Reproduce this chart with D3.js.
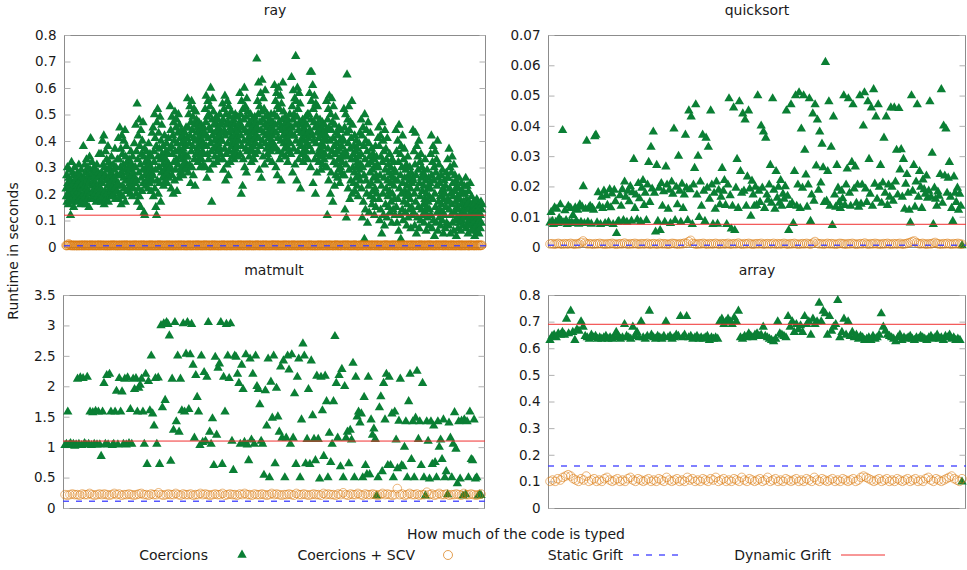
<!DOCTYPE html>
<html>
<head>
<meta charset="utf-8">
<script src="https://cdn.jsdelivr.net/npm/d3@7"></script>
<style>
  body { margin: 0; background: #fff; }
  svg { display: block; font-family: "DejaVu Sans", sans-serif; }
</style>
</head>
<body>
<script>
// benchmark names and the two reference lines per benchmark
const benchmarks = ["ray", "quicksort", "matmult", "array"];
const staticGrift = [0.005, 0.0006, 0.11, 0.158];
const dynamicGrift = [0.12, 0.0075, 1.1, 0.69];

// y tick values per benchmark
const rayTicks = [0, 0.1, 0.2, 0.3, 0.4, 0.5, 0.6, 0.7, 0.8];
const quicksortTicks = [0, 0.01, 0.02, 0.03, 0.04, 0.05, 0.06, 0.07];
const matmultTicks = [0, 0.5, 1, 1.5, 2, 2.5, 3, 3.5];
const arrayTicks = [0, 0.1, 0.2, 0.3, 0.4, 0.5, 0.6, 0.7, 0.8];

const legendLabels = ["Coercions", "Coercions + SCV", "Static Grift", "Dynamic Grift"];

// runtimes (s), one value per configuration, ordered by how much is typed
const rayCoercions = [
  .22,.19,.27,.17,.3,.24,.2,.16,.26,.21,.29,.18,.23,.12,.25,.2,.32,.17,.22,.28,.19,.24,.15,.27,.21,.3,.18,.25,.23,.2,.26,.19,.22,.28,.17,.24,.21,.31,.18,.25,.2,.27,.16,.23,.29,.19,.26,.22,.18,.24,
  .38,.2,.26,.17,.31,.23,.19,.28,.16,.33,.22,.25,.18,.3,.21,.27,.15,.24,.34,.2,.29,.41,.18,.26,.23,.32,.19,.28,.21,.25,.18,.3,.22,.27,.2,.24,.29,.17,.23,.31,.19,.26,.22,.28,.2,.35,.24,.18,.27,.21,
  .22,.35,.17,.28,.24,.4,.19,.31,.26,.42,.16,.3,.21,.27,.36,.18,.25,.33,.2,.29,.23,.38,.17,.26,.32,.22,.3,.19,.24,.28,.21,.34,.25,.19,.27,.23,.31,.2,.26,.29,.22,.37,.18,.25,.3,.23,.27,.21,.33,.24,
  .24,.41,.18,.33,.27,.45,.2,.3,.37,.16,.28,.42,.23,.35,.19,.31,.26,.4,.22,.29,.44,.17,.34,.25,.38,.21,.32,.28,.25,.3,.22,.27,.33,.24,.29,.2,.26,.36,.23,.31,.27,.19,.34,.25,.28,.22,.3,.39,.26,.24,
  .3,.46,.2,.36,.25,.54,.17,.33,.42,.22,.28,.48,.19,.38,.31,.15,.44,.26,.35,.21,.4,.29,.47,.24,.34,.13,.37,.12,.27,.32,.23,.3,.36,.25,.29,.33,.22,.28,.39,.26,.31,.24,.35,.27,.3,.21,.34,.28,.43,.25,
  .27,.45,.19,.36,.32,.5,.22,.41,.29,.15,.38,.12,.47,.25,.52,.34,.2,.43,.3,.37,.24,.49,.33,.17,.4,.28,.46,.35,.26,.31,.38,.23,.34,.29,.42,.27,.33,.25,.36,.3,.39,.24,.32,.28,.35,.41,.26,.31,.37,.29,
  .53,.3,.44,.22,.38,.49,.27,.35,.42,.2,.47,.32,.4,.25,.51,.36,.29,.45,.33,.48,.21,.39,.43,.31,.5,.26,.37,.46,.34,.41,.28,.36,.44,.3,.39,.33,.42,.27,.37,.31,.4,.35,.29,.43,.32,.38,.45,.34,.3,.41,
  .56,.34,.45,.28,.5,.39,.31,.53,.42,.24,.47,.36,.55,.3,.44,.38,.49,.27,.41,.52,.33,.46,.23,.4,.51,.35,.48,.43,.37,.45,.32,.41,.36,.47,.39,.34,.44,.3,.42,.38,.46,.33,.4,.36,.43,.31,.39,.45,.35,.42,
  .43,.52,.3,.47,.57,.38,.26,.49,.35,.55,.41,.33,.5,.45,.29,.53,.39,.6,.44,.36,.17,.48,.42,.56,.31,.51,.37,.46,.4,.34,.47,.43,.38,.49,.32,.44,.41,.36,.48,.39,.45,.33,.42,.5,.37,.46,.35,.43,.4,.47,
  .4,.54,.33,.48,.29,.52,.44,.37,.57,.42,.25,.5,.35,.46,.31,.55,.39,.47,.27,.53,.43,.36,.49,.32,.45,.41,.51,.38,.44,.34,.47,.4,.36,.48,.42,.33,.46,.39,.5,.37,.43,.35,.45,.41,.38,.49,.34,.44,.4,.46,
  .47,.58,.35,.5,.42,.2,.55,.38,.45,.23,.52,.33,.48,.4,.6,.3,.44,.53,.37,.49,.28,.56,.43,.36,.51,.41,.46,.39,.34,.47,.42,.37,.5,.44,.32,.45,.4,.48,.36,.43,.38,.46,.33,.41,.49,.35,.44,.39,.47,.42,
  .71,.45,.55,.36,.5,.62,.41,.29,.53,.47,.38,.58,.44,.26,.51,.63,.4,.48,.34,.56,.43,.52,.31,.46,.59,.39,.49,.42,.37,.45,.5,.35,.43,.47,.33,.41,.46,.38,.48,.44,.36,.5,.4,.45,.32,.42,.47,.39,.44,.37,
  .5,.61,.38,.46,.55,.3,.43,.58,.49,.27,.53,.41,.6,.36,.47,.52,.33,.45,.57,.4,.25,.54,.44,.48,.35,.62,.42,.51,.39,.46,.37,.43,.49,.34,.45,.41,.47,.38,.44,.32,.48,.4,.46,.36,.42,.5,.39,.45,.35,.43,
  .64,.45,.53,.28,.48,.59,.37,.5,.42,.56,.31,.46,.72,.4,.55,.25,.49,.6,.36,.52,.44,.33,.58,.47,.39,.54,.22,.43,.38,.46,.41,.35,.48,.43,.32,.45,.4,.47,.37,.44,.34,.49,.42,.36,.46,.39,.5,.33,.43,.41,
  .5,.38,.58,.44,.66,.3,.48,.55,.66,.36,.42,.61,.24,.52,.4,.47,.57,.33,.45,.2,.54,.39,.49,.28,.43,.53,.35,.46,.41,.32,.44,.37,.48,.34,.42,.29,.45,.39,.36,.47,.31,.43,.38,.4,.33,.46,.35,.41,.3,.44,
  .42,.55,.3,.12,.48,.37,.52,.25,.45,.57,.34,.4,.2,.5,.28,.44,.56,.36,.47,.17,.41,.53,.32,.38,.23,.46,.35,.49,.27,.39,.43,.31,.36,.26,.42,.33,.29,.45,.37,.24,.4,.3,.44,.34,.28,.38,.32,.41,.27,.35,
  .4,.52,.27,.45,.14,.36,.5,.31,.11,.43,.65,.34,.48,.22,.39,.53,.29,.44,.18,.37,.47,.25,.41,.33,.55,.2,.46,.3,.35,.24,.38,.28,.42,.21,.33,.36,.26,.4,.3,.23,.37,.32,.19,.34,.27,.39,.29,.43,.25,.31,
  .35,.48,.22,.42,.11,.3,.45,.17,.38,.27,.03,.5,.33,.14,.4,.25,.44,.2,.36,.09,.31,.47,.23,.39,.13,.34,.28,.43,.19,.32,.24,.37,.16,.29,.21,.35,.26,.18,.33,.12,.3,.22,.38,.15,.27,.34,.2,.31,.25,.41,
  .3,.45,.18,.38,.1,.27,.42,.14,.34,.23,.05,.47,.32,.2,.4,.12,.36,.26,.08,.44,.29,.16,.37,.22,.33,.11,.41,.25,.19,.31,.15,.28,.21,.35,.13,.24,.3,.17,.27,.09,.33,.2,.26,.14,.32,.23,.18,.29,.12,.25,
  .28,.44,.15,.36,.09,.25,.4,.18,.32,.06,.46,.22,.12,.35,.27,.03,.38,.2,.3,.14,.42,.24,.1,.33,.17,.37,.26,.21,.13,.29,.19,.31,.08,.23,.16,.34,.11,.27,.2,.25,.14,.3,.18,.22,.07,.28,.15,.24,.12,.26,
  .44,.25,.13,.36,.2,.08,.31,.43,.17,.27,.05,.38,.22,.11,.34,.29,.15,.4,.07,.24,.32,.19,.1,.35,.26,.14,.3,.21,.12,.28,.16,.23,.09,.27,.18,.33,.13,.25,.06,.2,.15,.29,.11,.22,.17,.26,.08,.19,.14,.24,
  .22,.35,.12,.42,.27,.07,.32,.18,.38,.1,.25,.3,.04,.2,.36,.15,.28,.09,.33,.23,.13,.4,.06,.26,.17,.31,.11,.24,.14,.19,.08,.27,.16,.21,.1,.29,.13,.22,.05,.18,.25,.12,.2,.07,.23,.15,.28,.09,.17,.26,
  .33,.18,.26,.08,.37,.14,.22,.3,.05,.2,.12,.28,.16,.34,.09,.24,.19,.06,.31,.13,.21,.27,.1,.17,.25,.04,.15,.23,.11,.19,.07,.22,.14,.26,.09,.18,.12,.2,.06,.16,.24,.1,.21,.13,.08,.17,.15,.11,.23,.14,
  .2,.12,.26,.07,.18,.14,.23,.09,.16,.05,.21,.11,.17,.08,.15,.24,.1,.13,.06,.19,.12,.16,.09,.14,.07,.17,.11,.16,.04,.13,.1,.15,.08,.12,.18,.06,.14,.11,.09,.16,.05,.13,.1,.15,.07,.12,.17,.09,.14,.16
];
const rayScv = [
  .006,.005,.007,.006,.012,.006,.008,.006,.005,.007,.006,.005,.006,.007,.005,.006,.006,.005,.007,.006,
  .005,.007,.006,.006,.005,.008,.006,.005,.006,.007,.006,.005,.007,.006,.005,.006,.008,.006,.005,.006,
  .007,.006,.005,.006,.006,.007,.005,.006,.008,.006,.005,.006,.007,.006,.006,.005,.007,.006,.005,.006,
  .006,.005,.007,.006,.005,.006,.006,.008,.006,.005,.007,.006,.006,.005,.006,.007,.005,.006,.006,.007,
  .005,.006,.007,.006,.005,.006,.008,.006,.006,.005,.007,.006,.005,.006,.007,.006,.005,.006,.006,.008,
  .006,.005,.006,.007,.006,.005,.006,.007,.006,.005,.008,.006,.006,.005,.007,.006,.005,.006,.006,.007,
  .005,.006,.008,.006,.005,.006,.007,.006,.005,.006,.006,.007,.005,.006,.008,.006,.005,.007,.006,.006,
  .006,.005,.007,.006,.006,.005,.006,.008,.006,.005,.006,.007,.006,.005,.006,.006,.007,.005,.006,.006,
  .007,.006,.005,.006,.008,.006,.005,.006,.007,.006,.006,.005,.007,.006,.005,.006,.006,.008,.006,.005,
  .006,.007,.005,.006,.006,.007,.006,.005,.006,.008,.006,.005,.007,.006,.006,.005,.006,.007,.005,.006,
  .008,.006,.005,.006,.007,.006,.006,.005,.006,.007,.005,.006,.008,.006,.005,.006,.007,.006,.005,.006,
  .006,.005,.007,.006,.005,.006,.008,.006,.006,.005,.007,.006,.005,.006,.007,.006,.006,.005,.006,.008,
  .005,.006,.007,.006,.005,.006,.006,.007,.005,.006,.008,.006,.005,.007,.006,.006,.005,.006,.007,.006,
  .006,.005,.006,.008,.006,.005,.007,.006,.006,.005,.006,.007,.005,.006,.006,.008,.006,.005,.007,.006,
  .005,.006,.007,.006,.006,.005,.008,.006,.005,.006,.007,.006,.005,.006,.006,.007,.005,.006,.008,.006,
  .007,.005,.006,.006,.008,.005,.006,.007,.006,.005,.006,.006,.007,.005,.006,.008,.006,.005,.006,.007,
  .006,.006,.005,.007,.006,.005,.006,.008,.006,.006,.005,.007,.006,.005,.006,.006,.007,.006,.005,.006,
  .008,.005,.006,.006,.007,.006,.005,.006,.006,.007,.005,.008,.006,.006,.005,.006,.007,.005,.006,.006,
  .005,.007,.006,.005,.006,.008,.006,.005,.007,.006,.006,.005,.006,.007,.006,.005,.006,.008,.005,.006,
  .006,.006,.007,.005,.006,.006,.005,.007,.006,.008,.005,.006,.006,.007,.005,.006,.006,.005,.007,.006,
  .007,.006,.005,.006,.008,.006,.006,.005,.007,.006,.005,.006,.006,.007,.005,.006,.008,.006,.006,.005,
  .006,.005,.006,.007,.006,.005,.008,.006,.005,.006,.007,.006,.006,.005,.006,.007,.006,.005,.006,.008,
  .005,.006,.007,.006,.006,.005,.006,.008,.006,.005,.007,.006,.005,.006,.006,.007,.005,.006,.006,.007,
  .006,.008,.005,.006,.007,.006,.005,.006,.006,.007,.006,.005,.008,.006,.006,.005,.007,.006,.005,.006,
  .007,.006,.006,.005,.006,.008,.006,.005,.007,.006,.005,.006,.006,.007,.006,.005,.006,.006,.008,.005,
  .006,.005,.007,.006,.006,.005,.006,.007,.005,.006,.008,.006,.006,.005,.007,.006,.005,.006,.007,.006,
  .005,.006,.006,.008,.006,.005,.007,.006,.006,.005,.006,.007,.005,.006,.006,.008,.006,.005,.006,.007,
  .006,.007,.005,.006,.006,.008,.005,.006,.007,.006,.006,.005,.006,.007,.006,.005,.008,.006,.006,.005,
  .007,.006,.005,.006,.007,.006,.006,.005,.008,.006,.005,.006,.007,.006,.005,.006,.006,.007,.006,.005,
  .006,.005,.008,.006,.006,.007,.005,.006,.006,.007,.005,.006,.006,.008,.006,.005,.007,.006,.006,.007
];
const quicksortCoercions = [
  .008,.0115,.0085,.0075,.013,.0082,.0125,.0078,.0095,.014,.0085,.0385,.008,.012,.0088,.0075,.0135,.0082,.0128,.008,.0105,.0078,.013,.0085,.0122,.0076,.014,.0082,.0132,.02,
  .0078,.0125,.035,.0082,.013,.0135,.0076,.0128,.0122,.0365,.037,.008,.018,.0135,.0075,.0165,.0128,.0185,.0078,.017,.0138,.0082,.019,.013,.0176,.0075,.0188,.015,.0045,.0082,
  .0085,.017,.0135,.019,.0088,.0215,.0165,.0082,.0185,.015,.02,.0086,.018,.029,.0128,.0172,.009,.021,.016,.0084,.0195,.022,.0138,.0178,.0088,.0205,.028,.0148,.033,.0192,
  .038,.0178,.005,.027,.0085,.0195,.0055,.021,.0135,.0183,.0082,.0265,.0205,.0125,.0188,.0078,.0215,.0175,.039,.0088,.0198,.014,.03,.0185,.0082,.0208,.0128,.0172,.037,.0195,
  .0088,.045,.019,.043,.0075,.0205,.026,.047,.0172,.03,.0098,.0215,.0135,.037,.0185,.0085,.036,.0195,.033,.0158,.045,.0205,.0075,.0178,.0125,.0215,.0076,.0188,.014,.0165,
  .026,.0185,.022,.0138,.0075,.0205,.049,.017,.006,.0135,.046,.0055,.0195,.029,.0128,.048,.025,.0178,.044,.0185,.042,.0135,.0232,.045,.0192,.0102,.0218,.0172,.0135,.0198,
  .0138,.05,.0185,.0148,.04,.0195,.038,.0128,.036,.0172,.0155,.0205,.027,.0145,.049,.0188,.0125,.025,.0162,.0198,.0145,.022,.0135,.0175,.0158,.02,.045,.0168,.0055,.0138,
  .047,.0145,.0078,.025,.05,.0135,.0205,.051,.0128,.039,.0195,.05,.032,.0238,.0132,.0205,.049,.0085,.0172,.044,.0152,.047,.0268,.042,.0188,.038,.0212,.034,.0262,.0148,
  .061,.0152,.025,.048,.0135,.033,.0072,.043,.0172,.0132,.027,.0195,.0148,.0128,.0185,.016,.05,.0138,.0205,.0258,.049,.0178,.0135,.028,.047,.0192,.0265,.0145,.0205,.0132,
  .05,.0142,.0205,.04,.051,.0192,.0148,.048,.029,.0175,.046,.0135,.052,.0208,.043,.0158,.047,.0198,.027,.0145,.0212,.036,.0178,.043,.0138,.0205,.0165,.046,.0198,.0152,
  .046,.0215,.032,.0172,.0458,.0255,.0322,.0165,.029,.0125,.0208,.024,.0178,.0122,.008,.05,.0185,.027,.0132,.0215,.047,.0165,.025,.0198,.0128,.0222,.019,.0175,.0235,.0162,
  .0185,.048,.0165,.031,.0075,.0195,.0158,.0135,.0182,.0168,.024,.052,.0145,.04,.0235,.039,.0178,.0228,.028,.0165,.0128,.0085,.0232,.0178,.0148,.0195,.0122,.0175,.0135,.0005
];
const quicksortScv = [
  .001,.0011,.0009,.001,.0012,.001,.0009,.0011,.001,.001,.0012,.001,.0009,.0011,.001,.0015,.002,.0013,.001,.0011,
  .001,.0009,.0011,.001,.0012,.001,.001,.0009,.0011,.001,.0012,.001,.0009,.001,.0011,.001,.0013,.001,.0009,.0011,
  .001,.0012,.001,.0009,.0011,.001,.001,.0012,.0009,.001,.0011,.001,.0009,.0012,.001,.0011,.001,.0009,.001,.0012,
  .0011,.001,.0009,.0011,.001,.0013,.0012,.0018,.0022,.0012,.001,.0009,.0011,.001,.0012,.001,.0009,.0011,.001,.001,
  .0012,.001,.0009,.0011,.001,.001,.0012,.0009,.001,.0011,.001,.0013,.001,.0009,.0011,.001,.0012,.001,.0009,.001,
  .0011,.001,.0012,.0009,.001,.0011,.001,.001,.0012,.0009,.0011,.001,.001,.0012,.001,.0009,.0011,.001,.0012,.001,
  .0009,.001,.0011,.001,.0012,.001,.0009,.0013,.0018,.0012,.001,.0011,.0009,.001,.0012,.001,.0011,.001,.0009,.001,
  .0012,.0011,.001,.0009,.0011,.001,.0012,.001,.0009,.001,.0011,.001,.0013,.001,.0009,.0011,.001,.0012,.001,.001,
  .0009,.0011,.001,.0012,.001,.0009,.0011,.001,.001,.0012,.0009,.001,.0011,.0013,.0015,.0018,.002,.0014,.0011,.001,
  .0012,.001,.0009,.0011,.001,.0012,.0015,.0011,.001,.0009,.0011,.001,.0012,.001,.0009,.0011,.001,.0012,.001,.0009
];
const matmultCoercions = [
  1.03,1.05,1.58,1.04,1.06,1.03,1.05,1.02,1.04,2.12,1.05,2.14,1.03,2.13,1.06,1.04,2.15,1.05,1.58,1.03,1.57,1.05,1.59,1.04,1.58,
  1.04,.85,1.58,2.05,1.05,2.18,1.04,2.2,1.58,1.03,1.05,1.58,1.92,1.04,2.13,1.58,1.91,1.05,2.12,1.04,2.14,1.06,1.62,1.05,2.12,
  1.95,2.13,1.58,1.97,2.02,2.12,1.58,1.05,2.2,.72,2.08,1.6,2.5,1.55,1.35,2.13,1.05,2.14,.72,3,1.65,3.03,1.77,3.05,3.02,
  2.83,.77,2.12,1.28,3.05,1.42,2.5,1.25,2.12,1.6,3.03,1.58,2.53,3.05,1.62,2.52,3.02,2.35,1.15,2.18,1.82,1.58,1.03,2.5,1.08,
  2.23,1.1,2.15,3.05,1.25,1.05,1.47,.7,2.48,1.2,2.3,2.37,3.05,.72,2.15,1.58,3.02,2.5,2.13,3.03,1.1,.62,2.5,2.48,2.2,
  2.05,1.05,2.35,1.95,1.08,2.52,1.04,.78,2.45,1.12,2.2,1.05,2.5,2,1.95,1.7,1.1,1.05,.54,1.93,1.35,2.45,.5,2.07,1.48,
  2.5,.73,1.97,1.5,1.25,2.32,1.15,2.42,.5,1.15,2.5,2.27,1.05,2.52,1.15,1.88,.72,2.15,2.45,.5,1.45,2.7,2.5,.73,1.13,
  1.95,.72,2.42,1.52,1.13,.78,2.17,1.13,.48,2.15,1.6,.85,2.17,1.75,.5,1.23,.75,1.05,1.75,2.82,2.05,1.15,2.18,.68,2.28,
  .5,2,1.15,1.25,.73,1.28,1.12,2.38,.5,2.15,1.5,1.58,1.4,1.55,.5,1.82,.7,.55,2.15,.55,1.45,1.2,1.3,1.13,.2,
  .5,1.65,1.83,.6,2.05,1.45,2.2,.7,2.15,.7,1.55,.5,1.58,1.12,.65,1.43,2.12,.7,.68,1,1.42,.5,1.75,2.2,.8,
  1.42,.5,1.48,2.25,1.13,1.42,.7,2.05,.5,.2,1.42,1.1,.48,1.42,.72,1.35,.75,.5,1.42,1,1.12,.8,1.45,.5,.6,
  .22,1.4,1.15,.5,1.05,1.57,.97,.4,1.42,.48,1.43,.2,1.45,.22,1.42,.5,1.58,.8,.78,1.45,.48,.5,.2,.22,.21
];
const matmultScv = [
  .22,.21,.22,.23,.22,.22,.21,.23,.22,.22,.24,.22,.21,.22,.23,.22,.23,.22,.21,.22,
  .24,.22,.23,.21,.22,.22,.23,.22,.21,.22,.23,.24,.22,.22,.21,.23,.22,.22,.25,.22,
  .21,.22,.23,.22,.22,.24,.22,.21,.23,.22,.22,.23,.21,.22,.22,.24,.22,.23,.22,.21,
  .22,.23,.22,.22,.24,.21,.22,.23,.22,.22,.21,.23,.22,.24,.22,.22,.21,.23,.22,.22,
  .23,.22,.21,.22,.24,.22,.23,.22,.21,.22,.22,.23,.22,.21,.24,.22,.22,.23,.22,.21,
  .22,.23,.22,.22,.21,.24,.22,.23,.22,.22,.21,.23,.22,.25,.22,.21,.23,.22,.22,.24,
  .22,.21,.23,.22,.22,.23,.22,.21,.22,.24,.22,.23,.22,.21,.22,.32,.22,.23,.21,.22,
  .24,.22,.22,.23,.21,.22,.22,.26,.22,.23,.21,.22,.24,.22,.22,.23,.21,.22,.22,.23,
  .22,.21,.24,.22,.22,.23,.22,.21,.22,.23
];
const arrayCoercions = [
  .63,.645,.65,.64,.655,.65,.66,.65,.71,.655,.74,.66,.63,.67,.665,.70,.68,.645,.64,.635,
  .65,.64,.645,.635,.64,.635,.64,.645,.635,.64,.635,.64,.66,.645,.635,.64,.69,.645,.64,.635,
  .68,.645,.66,.64,.70,.64,.635,.645,.74,.65,.64,.635,.645,.64,.635,.645,.70,.64,.645,.635,
  .64,.65,.645,.72,.64,.65,.72,.64,.645,.635,.64,.645,.635,.64,.635,.64,.645,.63,.64,.635,
  .64,.635,.70,.71,.69,.70,.71,.70,.69,.715,.70,.74,.64,.635,.645,.64,.655,.645,.64,.65,
  .655,.645,.65,.68,.645,.64,.635,.63,.625,.635,.70,.655,.65,.645,.64,.72,.68,.70,.66,.69,
  .67,.685,.66,.72,.69,.70,.65,.71,.69,.70,.77,.70,.74,.73,.65,.72,.665,.68,.69,.78,
  .64,.66,.71,.65,.70,.645,.66,.64,.65,.635,.645,.64,.63,.635,.64,.63,.645,.635,.64,.65,
  .73,.68,.665,.65,.645,.64,.635,.625,.64,.65,.63,.64,.635,.64,.645,.635,.63,.64,.635,.645,
  .64,.635,.63,.64,.645,.635,.64,.65,.635,.64,.63,.645,.64,.65,.635,.64,.63,.635,.63,.098
];
const arrayScv = [
  .1,.105,.1,.11,.105,.115,.12,.125,.12,.11,.105,.1,.11,.105,.12,.1,.105,.11,.1,.105,
  .1,.11,.115,.105,.1,.105,.11,.1,.105,.1,.11,.115,.105,.1,.11,.105,.1,.105,.11,.1,
  .105,.1,.11,.105,.1,.115,.105,.1,.105,.11,.1,.105,.1,.115,.105,.11,.1,.105,.1,.11,
  .105,.1,.11,.105,.115,.1,.105,.11,.1,.105,.1,.11,.105,.1,.115,.105,.1,.11,.105,.1,
  .105,.11,.1,.105,.115,.1,.105,.11,.1,.105,.1,.11,.105,.1,.105,.11,.1,.105,.1,.11,
  .105,.1,.115,.105,.1,.11,.105,.1,.105,.11,.1,.105,.1,.11,.105,.1,.105,.11,.1,.105,
  .115,.12,.115,.11,.105,.1,.105,.11,.1,.105,.11,.1,.105,.1,.11,.105,.1,.105,.11,.1,
  .105,.11,.1,.105,.1,.11,.115,.105,.1,.11,.105,.1,.105,.11,.115,.12,.11,.105,.1,.11
];

const coercions = [rayCoercions, quicksortCoercions, matmultCoercions, arrayCoercions];
const scv = [rayScv, quicksortScv, matmultScv, arrayScv];
const ticks = [rayTicks, quicksortTicks, matmultTicks, arrayTicks];

const w = 967;
const h = 570;

const green = "#0a7f34";
const orange = "#d9780a";
const blue = "#3a3aff";
const red = "#f03030";
const textColor = "#1a1a1a";

const svg = d3.select("body")
  .append("svg")
  .attr("width", w)
  .attr("height", h);

// plot frames, in pixels
const frames = [
  { left: 64, right: 486, top: 35, bottom: 247 },
  { left: 548, right: 966, top: 35, bottom: 247 },
  { left: 63, right: 485, top: 295, bottom: 508 },
  { left: 548, right: 966, top: 295, bottom: 508 }
];

const triangle = d3.symbol().type(d3.symbolTriangle).size(38);

benchmarks.forEach((name, k) => {
  const f = frames[k];
  const t = ticks[k];
  const y = d3.scaleLinear().domain([0, t[t.length - 1]]).range([f.bottom, f.top]);
  const xFor = arr => d3.scaleLinear().domain([0, arr.length - 1]).range([f.left + 2, f.right - 4]);
  const g = svg.append("g");

  // title
  g.append("text")
    .attr("x", (f.left + f.right) / 2)
    .attr("y", f.top - 20)
    .attr("text-anchor", "middle")
    .attr("font-size", 14)
    .attr("fill", textColor)
    .text(name);

  // frame
  g.append("rect")
    .attr("x", f.left + 0.5)
    .attr("y", f.top + 0.5)
    .attr("width", f.right - f.left - 1)
    .attr("height", f.bottom - f.top)
    .attr("fill", "none")
    .attr("stroke", "#8c8c8c")
    .attr("stroke-width", 1);

  // axes (inner ticks, mirrored on the right)
  const left = g.append("g")
    .attr("transform", `translate(${f.left + 0.5},0)`)
    .call(d3.axisLeft(y).tickValues(t).tickSize(-6).tickPadding(8).tickFormat(d3.format("~g")));
  const right = g.append("g")
    .attr("transform", `translate(${f.right - 0.5},0)`)
    .call(d3.axisRight(y).tickValues(t).tickSize(-6).tickFormat(""));
  [left, right].forEach(a => {
    a.select(".domain").remove();
    a.selectAll(".tick line").attr("stroke", "#b0b0b0");
    a.selectAll(".tick text")
      .attr("font-size", 13.5)
      .attr("font-family", "DejaVu Sans, sans-serif")
      .attr("fill", textColor);
  });

  // Coercions
  const xc = xFor(coercions[k]);
  g.append("g")
    .selectAll("path")
    .data(coercions[k])
    .enter()
    .append("path")
    .attr("d", triangle)
    .attr("transform", (d, i) => `translate(${xc(i)},${y(d)})`)
    .attr("fill", green);

  // Coercions + SCV
  const xs = xFor(scv[k]);
  g.append("g")
    .selectAll("circle")
    .data(scv[k])
    .enter()
    .append("circle")
    .attr("cx", (d, i) => xs(i))
    .attr("cy", d => y(d))
    .attr("r", 4.3)
    .attr("fill", "none")
    .attr("stroke", orange)
    .attr("stroke-opacity", 0.6)
    .attr("stroke-width", 0.9);

  // Static Grift
  g.append("line")
    .attr("x1", f.left).attr("x2", f.right)
    .attr("y1", y(staticGrift[k])).attr("y2", y(staticGrift[k]))
    .attr("stroke", blue)
    .attr("stroke-opacity", 0.85)
    .attr("stroke-width", 1.4)
    .attr("stroke-dasharray", "6,7");

  // Dynamic Grift
  g.append("line")
    .attr("x1", f.left).attr("x2", f.right)
    .attr("y1", y(dynamicGrift[k])).attr("y2", y(dynamicGrift[k]))
    .attr("stroke", red)
    .attr("stroke-width", 1);
});

// axis labels
svg.append("text")
  .attr("transform", "translate(13,251) rotate(-90)")
  .attr("text-anchor", "middle")
  .attr("dominant-baseline", "central")
  .attr("font-size", 14)
  .attr("fill", textColor)
  .text("Runtime in seconds");

svg.append("text")
  .attr("x", 516)
  .attr("y", 539)
  .attr("text-anchor", "middle")
  .attr("font-size", 14)
  .attr("fill", textColor)
  .text("How much of the code is typed");

// legend
const legendEnds = [208, 415, 623, 831];
const ly = 555;
const legend = svg.append("g");
legendLabels.forEach((label, i) => {
  const e = legendEnds[i];
  legend.append("text")
    .attr("x", e)
    .attr("y", ly)
    .attr("text-anchor", "end")
    .attr("dominant-baseline", "central")
    .attr("font-size", 14)
    .attr("fill", textColor)
    .text(label);
});
legend.append("path")
  .attr("d", triangle)
  .attr("transform", `translate(${legendEnds[0] + 34},${ly})`)
  .attr("fill", green);
legend.append("circle")
  .attr("cx", legendEnds[1] + 33).attr("cy", ly).attr("r", 4.5)
  .attr("fill", "none").attr("stroke", orange).attr("stroke-opacity", 0.7).attr("stroke-width", 1);
legend.append("line")
  .attr("x1", legendEnds[2] + 10).attr("x2", legendEnds[2] + 56)
  .attr("y1", ly).attr("y2", ly)
  .attr("stroke", blue).attr("stroke-opacity", 0.85).attr("stroke-width", 1.4)
  .attr("stroke-dasharray", "6,7");
legend.append("line")
  .attr("x1", legendEnds[3] + 10).attr("x2", legendEnds[3] + 54)
  .attr("y1", ly).attr("y2", ly)
  .attr("stroke", red).attr("stroke-width", 1);
</script>
</body>
</html>
